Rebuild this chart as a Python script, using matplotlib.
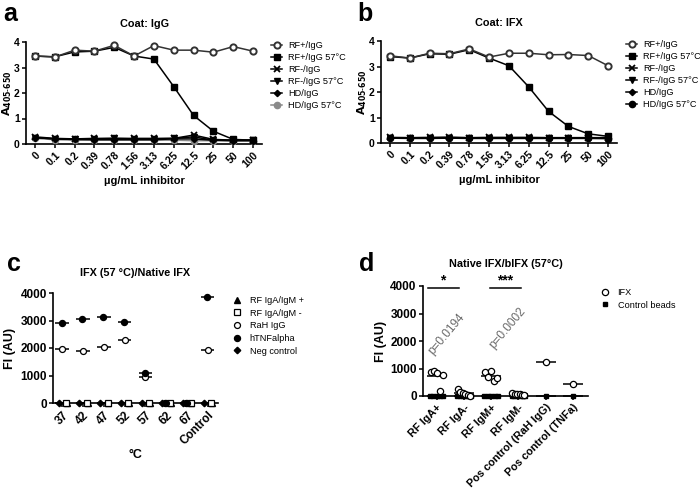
import matplotlib
matplotlib.use('Agg')
import matplotlib.pyplot as plt
import numpy as np
from matplotlib.lines import Line2D

plt.rcParams['font.family'] = ['Liberation Sans', 'DejaVu Sans']

# ---------------- data ----------------
conc_labels = ['0', '0.1', '0.2', '0.39', '0.78', '1.56', '3.13', '6.25', '12.5', '25', '50', '100']
ab_series = ['RF+/IgG', 'RF+/IgG 57°C', 'RF-/IgG', 'RF-/IgG 57°C', 'HD/IgG', 'HD/IgG 57°C']

a_rf_pos = [3.45, 3.41, 3.68, 3.64, 3.87, 3.45, 3.86, 3.68, 3.68, 3.60, 3.82, 3.64]
a_rf_pos_57 = [3.45, 3.42, 3.61, 3.64, 3.79, 3.45, 3.33, 2.25, 1.12, 0.50, 0.18, 0.15]
a_rf_neg = [0.28, 0.22, 0.20, 0.22, 0.22, 0.22, 0.22, 0.22, 0.35, 0.18, 0.15, 0.15]
a_rf_neg_57 = [0.25, 0.20, 0.18, 0.20, 0.22, 0.20, 0.20, 0.22, 0.28, 0.15, 0.15, 0.15]
a_hd = [0.25, 0.20, 0.18, 0.17, 0.17, 0.17, 0.17, 0.20, 0.20, 0.15, 0.13, 0.13]
a_hd_57 = [0.22, 0.17, 0.15, 0.15, 0.15, 0.15, 0.15, 0.15, 0.13, 0.13, 0.12, 0.12]

b_rf_pos = [3.42, 3.33, 3.52, 3.50, 3.69, 3.37, 3.52, 3.52, 3.46, 3.47, 3.43, 3.03]
b_rf_pos_57 = [3.39, 3.33, 3.50, 3.48, 3.66, 3.33, 3.03, 2.20, 1.24, 0.65, 0.36, 0.26]
b_rf_neg = [0.22, 0.21, 0.22, 0.23, 0.21, 0.22, 0.22, 0.22, 0.21, 0.21, 0.21, 0.21]
b_rf_neg_57 = [0.20, 0.19, 0.20, 0.21, 0.20, 0.20, 0.20, 0.20, 0.20, 0.20, 0.20, 0.20]
b_hd = [0.20, 0.19, 0.20, 0.20, 0.19, 0.19, 0.19, 0.19, 0.19, 0.19, 0.19, 0.19]
b_hd_57 = [0.19, 0.18, 0.18, 0.19, 0.18, 0.18, 0.18, 0.18, 0.18, 0.18, 0.18, 0.17]

c_temps = ['37', '42', '47', '52', '57', '62', '67', 'Control']
c_series = ['RF IgA/IgM +', 'RF IgA/IgM -', 'RaH IgG', 'hTNFalpha', 'Neg control']
c_rf_pos = [0, 0, 0, 0, 0, 0, 0, 0]
c_rf_neg = [0, 0, 0, 0, 0, 0, 0, 0]
c_rah = [1960, 1900, 2020, 2280, 960, 0, 0, 1930]
c_tnf = [2900, 3040, 3140, 2950, 1090, 0, 0, 3870]
c_neg = [0, 0, 0, 0, 0, 0, 0, 0]

d_categories = ['RF IgA+', 'RF IgA-', 'RF IgM+', 'RF IgM-', 'Pos control (RaH IgG)', 'Pos control (TNFa)']
d_ifx_iga_pos = [880, 900, 850, 170, 760]
d_ifx_iga_neg = [260, 160, 120, 80, 40, 10]
d_ifx_igm_pos = [870, 700, 920, 540, 670]
d_ifx_igm_neg = [100, 80, 70, 60, 50, 40]
d_ifx_pos_rah = [1220]
d_ifx_pos_tnf = [450]
d_ctrl_iga_pos = [0, 0, 0, 0, 0]
d_ctrl_iga_neg = [0, 0, 0, 0, 0, 0]
d_ctrl_igm_pos = [0, 0, 0, 0, 0]
d_ctrl_igm_neg = [0, 0, 0, 0, 0, 0]
d_ctrl_pos_rah = [0]
d_ctrl_pos_tnf = [0]
d_sig_labels = ['*', '***']
d_p_labels = ['p=0.0194', 'p=0.0002']

# ---------------- figure ----------------
W, H = 700, 488
fig = plt.figure(figsize=(W / 100, H / 100), dpi=100)


def px_axes(x0, x1, ytop, ybot):
    return fig.add_axes([x0 / W, 1 - ybot / H, (x1 - x0) / W, (ybot - ytop) / H])


def style_axes(ax, tick_fs=7.5):
    for s in ['top', 'right']:
        ax.spines[s].set_visible(False)
    for s in ['left', 'bottom']:
        ax.spines[s].set_linewidth(1.2)
    ax.tick_params(direction='out', length=3, width=1.1, labelsize=tick_fs, pad=1.5)
    for lab in ax.get_xticklabels() + ax.get_yticklabels():
        lab.set_fontweight('bold')


TICK_FS = 7.5
LEG_FS = 6.6
TITLE_FS = 7.8
leg_kw = dict(frameon=False, fontsize=LEG_FS, borderpad=0, borderaxespad=0)


def panel_ab(ax, data, title, hd57_color):
    x = np.arange(len(conc_labels))
    styles = [
        dict(marker='o', color='#333333', mfc='white', mec='#333333', ms=4.5, mew=1.4),
        dict(marker='s', color='black', ms=4, mew=1),
        dict(marker='x', color='black', ms=4, mew=1.3),
        dict(marker='v', color='black', ms=4.5, mew=1),
        dict(marker='D', color='black', ms=3.2, mew=1),
        dict(marker='o', color=hd57_color, mec=hd57_color, ms=4.5, mew=1),
    ]
    order = [5, 4, 3, 2, 1, 0]
    handles = [None] * 6
    for i in order:
        ln, = ax.plot(x, data[i], lw=1.1, clip_on=False, zorder=3 + (6 - i) * 0.1, **styles[i])
        handles[i] = ln
    ax.set_xlim(-0.45, 11.45)
    ax.set_ylim(0, 4)
    ax.set_yticks([0, 1, 2, 3, 4])
    ax.set_xticks(x)
    ax.set_xticklabels(conc_labels, rotation=45, ha='right', rotation_mode='anchor')
    ax.set_xlabel('µg/mL inhibitor', fontsize=8, fontweight='bold', labelpad=3)
    ax.set_ylabel(r'$\mathbf{A_{405\text{-}650}}$', fontsize=8.0)
    ax.yaxis.set_label_coords(-0.05, 0.5)
    ax.set_title(title, fontsize=TITLE_FS, fontweight='bold', pad=11)
    style_axes(ax, TICK_FS)
    return handles


ax_a = px_axes(26, 262, 42, 144)
ha = panel_ab(ax_a, [a_rf_pos, a_rf_pos_57, a_rf_neg, a_rf_neg_57, a_hd, a_hd_57], 'Coat: IgG', '#8a8a8a')
ax_a.legend(ha, ab_series, loc='upper left', bbox_to_anchor=(271 / W, 1 - 41 / H),
            bbox_transform=fig.transFigure, handlelength=1.2, handletextpad=0.7,
            labelspacing=0.33, **leg_kw)

ax_b = px_axes(381, 617, 41, 143)
hb = panel_ab(ax_b, [b_rf_pos, b_rf_pos_57, b_rf_neg, b_rf_neg_57, b_hd, b_hd_57], 'Coat: IFX', 'black')
ax_b.legend(hb, ab_series, loc='upper left', bbox_to_anchor=(626 / W, 1 - 40 / H),
            bbox_transform=fig.transFigure, handlelength=1.2, handletextpad=0.7,
            labelspacing=0.33, **leg_kw)

# ---------------- panel c ----------------
ax_c = px_axes(53, 218, 293, 403)
xc = np.arange(len(c_temps))
c_data = [c_rf_pos, c_rf_neg, c_rah, c_tnf, c_neg]
c_styles = [
    dict(marker='^', color='black', ms=3.8),
    dict(marker='s', mfc='white', mec='black', color='black', ms=4.3, mew=0.9),
    dict(marker='o', mfc='white', mec='black', color='black', ms=4.3, mew=0.9),
    dict(marker='o', color='black', ms=4.3),
    dict(marker='D', color='black', ms=3.3),
]
c_offsets = [0.22, 0.18, 0.0, -0.03, -0.18]
c_handles = []
for vals, st, off in zip(c_data, c_styles, c_offsets):
    ax_c.hlines(vals, xc - 0.33, xc + 0.33, color='black', lw=1.1, zorder=2, clip_on=False)
    h, = ax_c.plot(xc + off, vals, ls='none', clip_on=False, zorder=4, **st)
    c_handles.append(h)
ax_c.set_xlim(-0.45, 7.5)
ax_c.set_ylim(0, 4000)
ax_c.set_yticks([0, 1000, 2000, 3000, 4000])
ax_c.set_xticks(xc)
ax_c.set_xticklabels(c_temps, rotation=45, ha='right', rotation_mode='anchor')
ax_c.set_xlabel('°C', fontsize=9, fontweight='bold', labelpad=1)
ax_c.set_ylabel('FI (AU)', fontsize=9, fontweight='bold', labelpad=3)
ax_c.set_title('IFX (57 °C)/Native IFX', fontsize=TITLE_FS, fontweight='bold', pad=12)
style_axes(ax_c, 8.5)
ax_c.legend(c_handles, c_series, loc='upper left', bbox_to_anchor=(234 / W, 1 - 296 / H),
            bbox_transform=fig.transFigure, handlelength=0.7, handletextpad=1.0,
            labelspacing=0.4, **leg_kw)

# ---------------- panel d ----------------
ax_d = px_axes(423, 588, 286, 396)
xd = np.arange(len(d_categories))
d_ifx = [d_ifx_iga_pos, d_ifx_iga_neg, d_ifx_igm_pos, d_ifx_igm_neg, d_ifx_pos_rah, d_ifx_pos_tnf]
d_ctrl = [d_ctrl_iga_pos, d_ctrl_iga_neg, d_ctrl_igm_pos, d_ctrl_igm_neg, d_ctrl_pos_rah, d_ctrl_pos_tnf]
ifx_style = dict(marker='o', mfc='white', mec='black', ms=4.5, mew=0.9, ls='none')
ctrl_style = dict(marker='s', color='black', ms=3.0, ls='none')
for i, (vi, vc) in enumerate(zip(d_ifx, d_ctrl)):
    n = len(vc)
    oc = np.linspace(-0.25, 0.25, n) if n > 1 else np.zeros(1)
    ax_d.plot(i + oc, vc, clip_on=False, zorder=4, **ctrl_style)
    n = len(vi)
    oi = np.linspace(-0.22, 0.22, n) if n > 1 else np.zeros(1)
    ax_d.plot(i + oi, vi, clip_on=False, zorder=5, **ifx_style)
    ax_d.hlines(np.mean(vi), i - 0.36, i + 0.36, color='black', lw=1.1, zorder=3)
    ax_d.hlines(np.mean(vc), i - 0.36, i + 0.36, color='black', lw=1.1, zorder=3, clip_on=False)

# significance bars
sig_spans = [(-0.33, 0.81), (1.95, 3.1)]
for (x0, x1), lab in zip(sig_spans, d_sig_labels):
    ax_d.plot([x0, x1], [3920, 3920], color='black', lw=1.1, clip_on=False)
    ax_d.text((x0 + x1) / 2, 3960, lab, ha='center', va='bottom', fontsize=10, fontweight='bold')
p_pos = [(0.36, 2250), (2.62, 2450)]
for (px, py), lab in zip(p_pos, d_p_labels):
    ax_d.text(px, py, lab, rotation=50, ha='center', va='center', fontsize=8.5, color='#6a6a6a',
              rotation_mode='anchor')

ax_d.set_xlim(-0.5, 5.55)
ax_d.set_ylim(0, 4000)
ax_d.set_yticks([0, 1000, 2000, 3000, 4000])
ax_d.set_xticks(xd)
ax_d.set_xticklabels(d_categories, rotation=45, ha='right', rotation_mode='anchor')
ax_d.set_ylabel('FI (AU)', fontsize=9, fontweight='bold', labelpad=2)
ax_d.set_title('Native IFX/bIFX (57°C)', fontsize=TITLE_FS, fontweight='bold', pad=14)
style_axes(ax_d, 8.5)
for lab in ax_d.get_xticklabels():
    lab.set_fontsize(7.8)
d_handles = [Line2D([], [], **ifx_style), Line2D([], [], **ctrl_style)]
ax_d.legend(d_handles, ['IFX', 'Control beads'], loc='upper left', bbox_to_anchor=(602 / W, 1 - 288 / H),
            bbox_transform=fig.transFigure, handlelength=0.7, handletextpad=1.0,
            labelspacing=0.4, **leg_kw)

# panel letters
for lab, (x, y) in zip(['a', 'b', 'c', 'd'], [(3, 2), (357, 2), (7, 252), (359, 252)]):
    fig.text(x / W, 1 - y / H, lab, fontsize=18, fontweight='bold', ha='left', va='top')

fig.savefig('out.png', dpi=100)
